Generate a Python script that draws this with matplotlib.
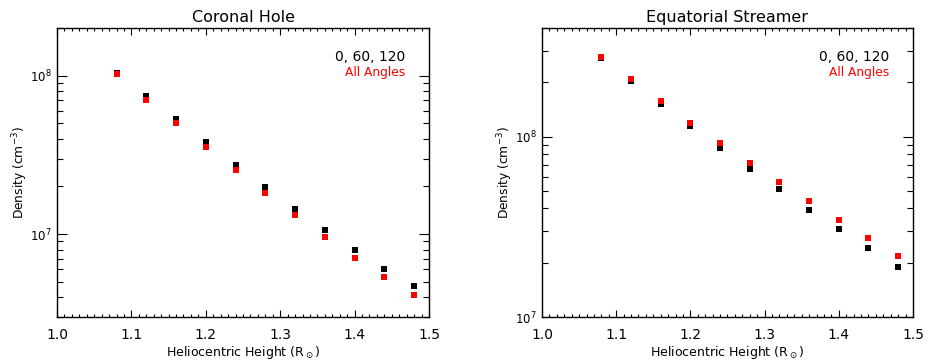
import matplotlib
matplotlib.use("Agg")
import matplotlib.pyplot as plt
from matplotlib.ticker import MultipleLocator, LogLocator, NullFormatter

# heliocentric heights (solar radii)
height = [1.08, 1.12, 1.16, 1.20, 1.24, 1.28, 1.32, 1.36, 1.40, 1.44, 1.48]

# coronal hole densities (cm^-3)
ch_three = [1.04e8, 7.41e7, 5.32e7, 3.81e7, 2.74e7, 1.98e7, 1.44e7, 1.06e7, 7.96e6, 6.05e6, 4.73e6]
ch_all = [1.02e8, 7.07e7, 5.02e7, 3.55e7, 2.55e7, 1.83e7, 1.33e7, 9.62e6, 7.09e6, 5.39e6, 4.16e6]

# equatorial streamer densities (cm^-3)
es_three = [2.73e8, 2.03e8, 1.52e8, 1.14e8, 8.64e7, 6.62e7, 5.11e7, 3.94e7, 3.08e7, 2.42e7, 1.89e7]
es_all = [2.76e8, 2.08e8, 1.57e8, 1.19e8, 9.22e7, 7.12e7, 5.60e7, 4.37e7, 3.47e7, 2.75e7, 2.18e7]

panels = [
    ("Coronal Hole", ch_three, ch_all, (3e6, 2e8)),
    ("Equatorial Streamer", es_three, es_all, (1e7, 4e8)),
]

fig = plt.figure(figsize=(9.3, 3.6), dpi=100)
boxes = [[0.0613, 0.1194, 0.4, 0.8028], [0.5828, 0.1194, 0.3989, 0.8028]]

for box, (title, three, allang, ylim) in zip(boxes, panels):
    ax = fig.add_axes(box)
    ax.plot(height, three, 's', color='black', markersize=4.6, markeredgewidth=0)
    ax.plot(height, allang, 's', color='red', markersize=4.6, markeredgewidth=0)
    ax.set_yscale('log')
    ax.set_xlim(1.0, 1.5)
    ax.set_ylim(*ylim)
    ax.xaxis.set_major_locator(MultipleLocator(0.1))
    ax.xaxis.set_minor_locator(MultipleLocator(0.01))
    ax.yaxis.set_major_locator(LogLocator(base=10))
    ax.yaxis.set_minor_locator(LogLocator(base=10, subs=range(2, 10)))
    ax.yaxis.set_minor_formatter(NullFormatter())
    ax.tick_params(which='both', direction='in', top=True, right=True, width=0.8)
    ax.tick_params(axis='y', which='major', length=7, pad=4, labelsize=8.5)
    ax.tick_params(axis='y', which='minor', length=4)
    ax.tick_params(axis='x', which='major', length=5, pad=8, labelsize=10)
    ax.tick_params(axis='x', which='minor', length=2.5)
    for sp in ax.spines.values():
        sp.set_linewidth(1.0)
    ax.set_title(title, fontsize=11.5, pad=4)
    ax.set_xlabel(r"Heliocentric Height (R$_\odot$)", fontsize=9, labelpad=1)
    ax.set_ylabel(r"Density (cm$^{-3}$)", fontsize=8.8, labelpad=0)
    ax.text(0.935, 0.90, "0, 60, 120", transform=ax.transAxes, ha='right',
            va='center', fontsize=10, color='black')
    ax.text(0.935, 0.845, "All Angles", transform=ax.transAxes, ha='right',
            va='center', fontsize=8.8, color='red')

fig.savefig("out.png", dpi=100)
